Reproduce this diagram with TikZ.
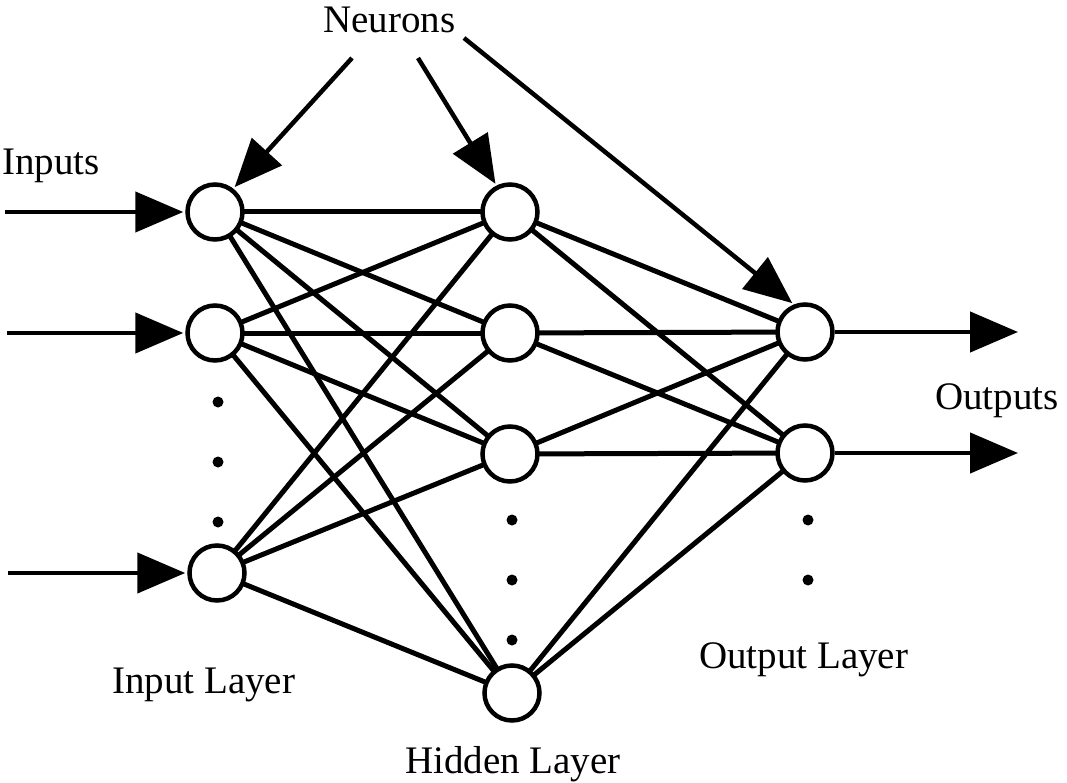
\documentclass[tikz,border=0pt]{standalone}
\usepackage{fontspec}
\setmainfont{Liberation Serif}
\usetikzlibrary{arrows.meta}
\begin{document}
\begin{tikzpicture}[x=1pt,y=-1pt,
  neuron/.style={circle,draw=black,fill=white,line width=4.5pt,minimum size=55pt,inner sep=0pt},
  edge/.style={line width=5pt},
  arr/.style={line width=4.5pt,-{Triangle[length=48pt,width=40pt]},shorten >=2pt},
  lbl/.style={inner sep=0pt,font=\fontsize{39}{46}\selectfont,anchor=base west},
  dot/.style={circle,fill=black,inner sep=0pt,minimum size=11pt}]
\useasboundingbox (0,0) rectangle (1067,783);
% edges first (below nodes)
\coordinate (I1c) at (215,212);
\coordinate (I2c) at (215,333);
\coordinate (I3c) at (217,573);
\coordinate (H1c) at (510,212);
\coordinate (H2c) at (510,333);
\coordinate (H3c) at (510,454);
\coordinate (H4c) at (512,693);
\coordinate (O1c) at (805,332);
\coordinate (O2c) at (805,453);
\foreach \i in {I1c,I2c,I3c}{
  \foreach \h in {H1c,H2c,H3c,H4c}{
    \draw[edge] (\i) -- (\h);
  }
}
\foreach \h in {H1c,H2c,H3c,H4c}{
  \foreach \o in {O1c,O2c}{
    \draw[edge] (\h) -- (\o);
  }
}
% neurons
\node[neuron] (I1) at (I1c) {};
\node[neuron] (I2) at (I2c) {};
\node[neuron] (I3) at (I3c) {};
\node[neuron] (H1) at (H1c) {};
\node[neuron] (H2) at (H2c) {};
\node[neuron] (H3) at (H3c) {};
\node[neuron] (H4) at (H4c) {};
\node[neuron] (O1) at (O1c) {};
\node[neuron] (O2) at (O2c) {};
% dots
\node[dot] (di1) at (218,402) {};
\node[dot] (di2) at (218,462) {};
\node[dot] (di3) at (218,522) {};
\node[dot] (dh1) at (512,520) {};
\node[dot] (dh2) at (512,580) {};
\node[dot] (dh3) at (512,640) {};
\node[dot] (do1) at (808,520) {};
\node[dot] (do2) at (808,580) {};
% input arrows
\coordinate (in1) at (5,212);
\coordinate (in2) at (7,333);
\coordinate (in3) at (8,573);
\draw[arr] (in1) -- (I1);
\draw[arr] (in2) -- (I2);
\draw[arr] (in3) -- (I3);
% output arrows
\coordinate (out1) at (1018,332);
\coordinate (out2) at (1018,453);
\draw[arr,shorten >=0pt] (O1) -- (out1);
\draw[arr,shorten >=0pt] (O2) -- (out2);
% neuron pointers
\coordinate (n1) at (352,58);
\coordinate (n2) at (418,58);
\coordinate (n3) at (464,38);
\draw[arr] (n1) -- (I1.52);
\draw[arr] (n2) -- (H1.117);
\draw[arr] (n3) -- (O1.112);
% labels
\node[lbl] (neurons) at (323,33) {Neurons};
\node[lbl] (inputs) at (2,175) {Inputs};
\node[lbl] (outputs) at (935,409) {Outputs};
\node[lbl] (inlayer) at (112,693) {Input Layer};
\node[lbl] (hidlayer) at (405,773) {Hidden Layer};
\node[lbl] (outlayer) at (699,668) {Output Layer};
\end{tikzpicture}
\end{document}
